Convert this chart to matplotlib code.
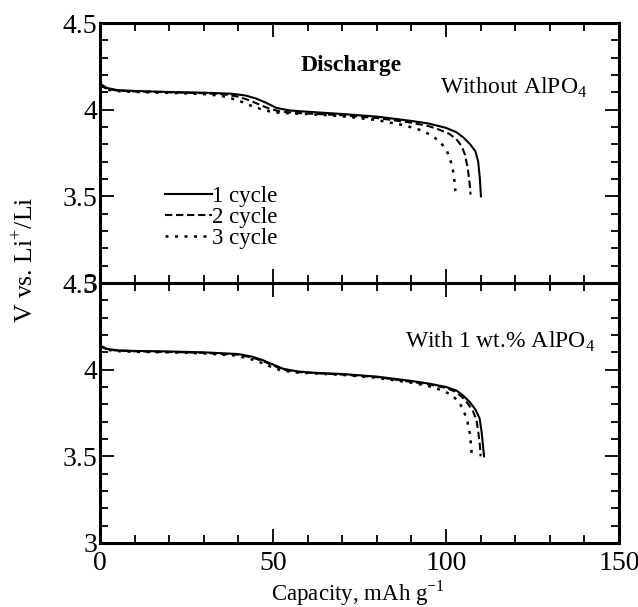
"""Discharge curves, with and without AlPO4 coating."""

import matplotlib
matplotlib.use("Agg")
import matplotlib.pyplot as plt
from matplotlib.ticker import MultipleLocator

plt.rcParams["font.family"] = ["Liberation Serif", "DejaVu Serif"]
plt.rcParams["mathtext.fontset"] = "custom"
plt.rcParams["mathtext.rm"] = "Liberation Serif"

# --- data ---
labels = ["1 cycle", "2 cycle", "3 cycle"]

top_cap_1 = [0, 2, 5, 10, 20, 30, 38, 42, 45, 48, 51, 55, 60, 70, 80, 90, 95, 100, 103, 105, 107, 108.5, 109.3, 109.8, 110.1]
top_v_1 = [4.15, 4.125, 4.113, 4.108, 4.102, 4.098, 4.092, 4.082, 4.065, 4.04, 4.01, 3.995, 3.988, 3.975, 3.96, 3.935, 3.92, 3.895, 3.87, 3.84, 3.80, 3.76, 3.70, 3.60, 3.50]
top_cap_2 = [0, 2, 5, 10, 20, 30, 36, 40, 43, 46, 49, 52, 56, 60, 70, 80, 90, 95, 98, 101, 103, 104.5, 105.5, 106.3, 106.8, 107.1]
top_v_2 = [4.14, 4.12, 4.11, 4.105, 4.10, 4.095, 4.088, 4.075, 4.055, 4.03, 4.005, 3.99, 3.982, 3.978, 3.968, 3.952, 3.925, 3.905, 3.885, 3.86, 3.83, 3.79, 3.74, 3.66, 3.58, 3.51]
top_cap_3 = [0, 2, 5, 10, 20, 30, 35, 38, 41, 44, 47, 50, 55, 60, 70, 80, 88, 93, 96, 98.5, 100.3, 101.4, 102.1, 102.5, 102.7]
top_v_3 = [4.14, 4.115, 4.107, 4.102, 4.097, 4.09, 4.08, 4.065, 4.045, 4.02, 4.0, 3.985, 3.978, 3.975, 3.962, 3.94, 3.91, 3.88, 3.85, 3.81, 3.76, 3.70, 3.64, 3.58, 3.53]

bot_cap_1 = [0, 2, 5, 10, 20, 30, 40, 44, 47, 50, 53, 57, 62, 70, 80, 90, 95, 100, 103, 105, 107, 108.5, 109.7, 110.3, 110.7, 111]
bot_v_1 = [4.14, 4.12, 4.112, 4.108, 4.105, 4.10, 4.09, 4.075, 4.055, 4.03, 4.005, 3.99, 3.982, 3.975, 3.96, 3.935, 3.92, 3.90, 3.88, 3.85, 3.81, 3.77, 3.72, 3.64, 3.56, 3.50]
bot_cap_2 = [0, 2, 5, 10, 20, 30, 40, 44, 47, 50, 53, 57, 62, 70, 80, 90, 95, 100, 102.5, 104.5, 106.3, 107.7, 108.8, 109.4, 109.8, 110]
bot_v_2 = [4.135, 4.117, 4.11, 4.106, 4.102, 4.097, 4.086, 4.07, 4.05, 4.025, 4.0, 3.987, 3.98, 3.972, 3.957, 3.93, 3.915, 3.895, 3.875, 3.845, 3.805, 3.765, 3.71, 3.63, 3.56, 3.50]
bot_cap_3 = [0, 2, 5, 10, 20, 30, 39, 43, 46, 49, 52, 56, 62, 70, 80, 90, 95, 99, 101.5, 103.5, 105, 106.2, 106.9, 107.2, 107.4]
bot_v_3 = [4.135, 4.115, 4.107, 4.103, 4.1, 4.094, 4.082, 4.065, 4.045, 4.02, 3.998, 3.985, 3.978, 3.97, 3.953, 3.925, 3.905, 3.88, 3.855, 3.82, 3.77, 3.70, 3.63, 3.57, 3.52]

styles = [dict(ls="-", lw=1.5),
          dict(ls=(0, (3.5, 1.8)), lw=1.5),
          dict(ls=(0, (1.2, 2.6)), lw=1.8)]

fig = plt.figure(figsize=(6.38, 6.07), dpi=100)
ax_top = fig.add_axes([100 / 638, 1 - 283 / 607, 519 / 638, 260 / 607])
ax_bot = fig.add_axes([100 / 638, 1 - 543 / 607, 519 / 638, 260 / 607])

top = [(top_cap_1, top_v_1), (top_cap_2, top_v_2), (top_cap_3, top_v_3)]
bot = [(bot_cap_1, bot_v_1), (bot_cap_2, bot_v_2), (bot_cap_3, bot_v_3)]

for ax, curves in ((ax_top, top), (ax_bot, bot)):
    for (c, v), st, lab in zip(curves, styles, labels):
        ax.plot(c, v, color="black", label=lab, **st)
    ax.set_xlim(0, 150)
    ax.set_ylim(3, 4.5)
    ax.xaxis.set_major_locator(MultipleLocator(50))
    ax.xaxis.set_minor_locator(MultipleLocator(10))
    ax.yaxis.set_major_locator(MultipleLocator(0.5))
    ax.yaxis.set_minor_locator(MultipleLocator(0.1))
    ax.tick_params(which="both", direction="in", top=True, right=True,
                   width=1.3, labelsize=20, pad=2)
    ax.tick_params(axis="x", pad=6)
    ax.tick_params(which="major", length=10)
    ax.tick_params(which="minor", length=6)
    for s in ax.spines.values():
        s.set_linewidth(2.2)
    ax.yaxis.set_major_formatter(plt.FuncFormatter(lambda y, _: f"{y:g}"))

ax_top.tick_params(labelbottom=False)

ax_top.text(0.484, 0.838, "Discharge", transform=ax_top.transAxes,
            fontsize=17, fontweight="bold", ha="center", va="center")
ax_top.text(0.655, 0.75, "Without AlPO$_4$", transform=ax_top.transAxes,
            fontsize=17, ha="left", va="center")
ax_bot.text(0.588, 0.773, "With 1 wt.% AlPO$_4$", transform=ax_bot.transAxes,
            fontsize=17, ha="left", va="center")

ax_top.legend(loc="upper left", bbox_to_anchor=(0.108, 0.41), frameon=False,
              fontsize=16.5, handlelength=2.05, handletextpad=0.0,
              labelspacing=0.0, borderaxespad=0)

fig.text(25 / 638, 1 - 260 / 607, "V vs. Li$^{+}$/Li", rotation=90,
         fontsize=18.5, ha="center", va="center")
fig.text(358 / 638, 1 - 601 / 607, "Capacity, mAh g$^{-1}$",
         fontsize=16.5, ha="center", va="baseline")

fig.savefig("out.png", dpi=100)
